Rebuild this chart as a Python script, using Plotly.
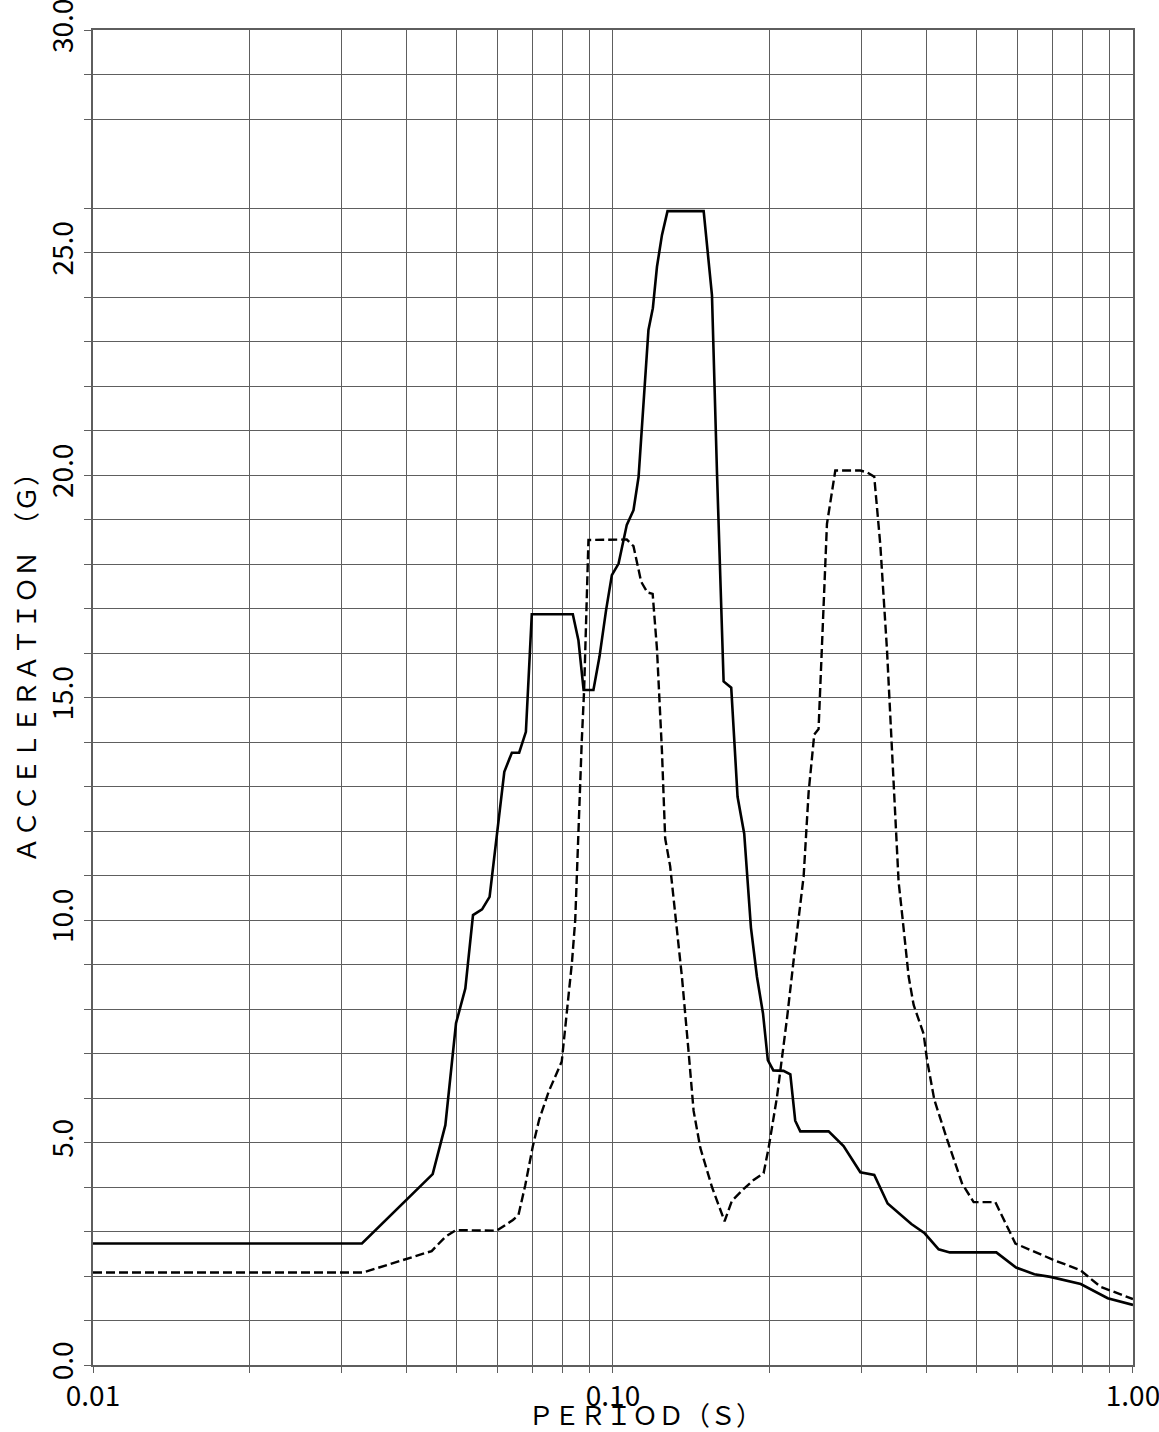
import plotly.graph_objects as go

# ---- data (period in s, acceleration in G) ----
period_solid = [0.0100, 0.0329, 0.0450, 0.0476, 0.0499, 0.0520, 0.0538, 0.0560, 0.0579, 0.0595,
                0.0618, 0.0639, 0.0660, 0.0680, 0.0698, 0.0837, 0.0858, 0.0878, 0.0917, 0.0942,
                0.0970, 0.0995, 0.1025, 0.1063, 0.1095, 0.1120, 0.1142, 0.1170, 0.1193, 0.1215,
                0.1242, 0.1273, 0.1494, 0.1550, 0.1585, 0.1632, 0.1688, 0.1736, 0.1788, 0.1842,
                0.1892, 0.1943, 0.1985, 0.2034, 0.2128, 0.2193, 0.2241, 0.2292, 0.2598, 0.2776,
                0.2990, 0.3180, 0.3374, 0.3748, 0.3975, 0.4229, 0.4444, 0.5460, 0.5959, 0.6462,
                0.6936, 0.7935, 0.8941, 1.0000]
accel_solid = [2.73, 2.73, 4.29, 5.39, 7.68, 8.46, 10.11, 10.24, 10.52, 11.72,
               13.33, 13.76, 13.76, 14.23, 16.87, 16.87, 16.29, 15.17, 15.17, 15.92,
               16.97, 17.75, 18.01, 18.88, 19.21, 19.96, 21.46, 23.26, 23.75, 24.68,
               25.39, 25.93, 25.93, 24.04, 20.04, 15.36, 15.22, 12.77, 11.94, 9.83,
               8.72, 7.90, 6.85, 6.62, 6.61, 6.53, 5.49, 5.25, 5.25, 4.92,
               4.33, 4.27, 3.63, 3.17, 2.96, 2.60, 2.53, 2.53, 2.19, 2.04,
               1.98, 1.82, 1.50, 1.35]

period_dashed = [0.0100, 0.0331, 0.0448, 0.0476, 0.0499, 0.0598, 0.0642, 0.0658, 0.0678, 0.0701,
                 0.0721, 0.0752, 0.0797, 0.0815, 0.0834, 0.0846, 0.0858, 0.0871, 0.0880, 0.0897,
                 0.1063, 0.1095, 0.1133, 0.1165, 0.1192, 0.1215, 0.1242, 0.1260, 0.1288, 0.1327,
                 0.1357, 0.1397, 0.1429, 0.1472, 0.1550, 0.1639, 0.1693, 0.1782, 0.1864, 0.1948,
                 0.1992, 0.2067, 0.2161, 0.2225, 0.2275, 0.2326, 0.2378, 0.2438, 0.2485, 0.2523,
                 0.2579, 0.2676, 0.2990, 0.3080, 0.3180, 0.3267, 0.3365, 0.3464, 0.3542, 0.3596,
                 0.3703, 0.3786, 0.3957, 0.4018, 0.4149, 0.4390, 0.4691, 0.4938, 0.5436, 0.5941,
                 0.6540, 0.7038, 0.7924, 0.8656, 1.0000]
accel_dashed = [2.08, 2.08, 2.56, 2.88, 3.03, 3.02, 3.26, 3.37, 4.04, 4.91,
                5.51, 6.14, 6.82, 7.94, 9.06, 10.00, 12.02, 14.04, 15.17, 18.54,
                18.55, 18.40, 17.60, 17.36, 17.33, 16.09, 13.80, 11.83, 11.21, 9.86,
                8.72, 7.06, 5.71, 4.88, 4.00, 3.23, 3.69, 3.95, 4.16, 4.31,
                4.88, 6.02, 7.79, 9.09, 10.04, 10.98, 12.87, 14.17, 14.29, 16.06,
                18.90, 20.10, 20.10, 20.06, 19.96, 18.42, 16.06, 13.11, 10.86, 10.15,
                8.73, 8.09, 7.44, 6.85, 5.96, 5.07, 4.08, 3.66, 3.66, 2.73,
                2.51, 2.36, 2.13, 1.76, 1.48]

x_tick_values = [0.01, 0.02, 0.03, 0.04, 0.05, 0.06, 0.07, 0.08, 0.09,
                 0.1, 0.2, 0.3, 0.4, 0.5, 0.6, 0.7, 0.8, 0.9, 1.0]
x_tick_labels = ["0.01", "", "", "", "", "", "", "", "",
                 "0.10", "", "", "", "", "", "", "", "", "1.00"]
y_tick_values = [0, 1, 2, 3, 4, 5, 6, 7, 8, 9, 10, 11, 12, 13, 14, 15,
                 16, 17, 18, 19, 20, 21, 22, 23, 24, 25, 26, 28, 29, 30]
y_tick_labels = ["0.0", "", "", "", "", "5.0", "", "", "", "", "10.0", "", "", "", "", "15.0",
                 "", "", "", "", "20.0", "", "", "", "", "25.0", "", "", "", "30.0"]

x_title = "ＰＥＲＩＯＤ（Ｓ）"
y_title = "ＡＣＣＥＬＥＲＡＴＩＯＮ\u3000（Ｇ）"

FONT = "Noto Sans CJK JP, Liberation Sans, sans-serif"
GRID = "#5e5e5e"

W, H = 1159, 1432
L, T = 93, 30
PW, PH = 1040, 1335

fig = go.Figure()
fig.add_trace(go.Scatter(x=period_solid, y=accel_solid, mode="lines",
                         line=dict(color="black", width=2.6), showlegend=False))
fig.add_trace(go.Scatter(x=period_dashed, y=accel_dashed, mode="lines",
                         line=dict(color="black", width=2.4, dash="9px,4px"), showlegend=False))

fig.update_layout(
    width=W, height=H,
    margin=dict(l=L, r=W - L - PW, t=T, b=H - T - PH, autoexpand=False),
    paper_bgcolor="white", plot_bgcolor="white",
    font=dict(family=FONT, size=28, color="black"),
    showlegend=False,
)
fig.update_xaxes(
    type="log", range=[-2, 0.00002],
    tickmode="array", tickvals=x_tick_values, ticktext=x_tick_labels,
    ticks="outside", ticklen=6, tickcolor=GRID, tickwidth=1,
    showgrid=True, gridcolor=GRID, gridwidth=1,
    showline=True, linecolor=GRID, linewidth=1.5, mirror=True,
    zeroline=False, tickangle=0, ticklabelstandoff=0, ticklabeloverflow="allow",
    tickfont=dict(family=FONT, size=28),
)
fig.update_yaxes(
    range=[0, 30.0005],
    tickmode="array", tickvals=y_tick_values, ticktext=y_tick_labels,
    ticks="outside", ticklen=7, tickcolor=GRID, tickwidth=1,
    showgrid=True, gridcolor=GRID, gridwidth=1,
    showline=True, linecolor=GRID, linewidth=1.5, mirror=True,
    zeroline=False, tickangle=-90, ticklabeloverflow="allow",
    tickfont=dict(family=FONT, size=28),
)

fig.add_annotation(text=y_title, xref="paper", yref="paper",
                   x=(25 - L) / PW, y=(1365 - 662) / PH,
                   xanchor="center", yanchor="middle", textangle=-90,
                   showarrow=False, font=dict(family=FONT, size=26))
fig.add_annotation(text=x_title, xref="paper", yref="paper",
                   x=(645 - L) / PW, y=(1365 - 1414) / PH,
                   xanchor="center", yanchor="middle",
                   showarrow=False, font=dict(family=FONT, size=26))

# remove the browser's default body margin so the figure fills the window exactly
fig.write_html("out.html",
               config={"displayModeBar": False},
               post_script="document.body.style.margin='0';document.body.style.overflow='hidden';")
